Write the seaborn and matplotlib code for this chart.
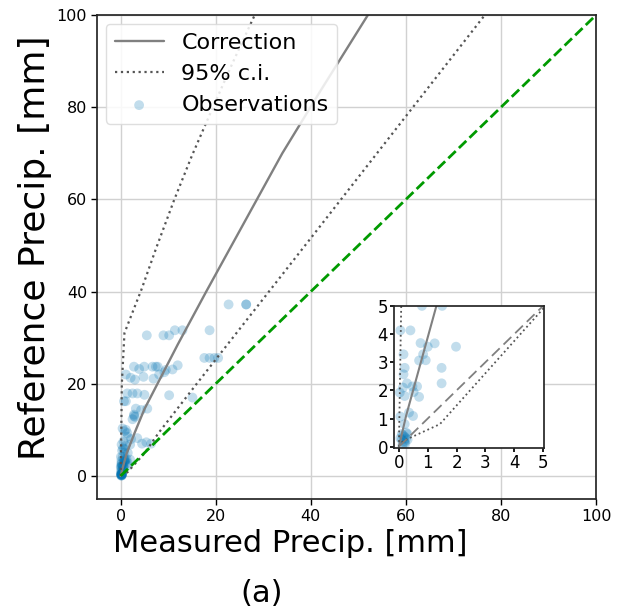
import numpy as np
import pandas as pd
import seaborn as sns
import matplotlib.pyplot as plt

# observations (measured, reference)
obs_x = [22.7, 26.4, 26.4, 5.5, 9.0, 10.2, 11.4, 13.0, 18.7,
         17.6, 18.7, 19.7, 20.5,
         2.8, 3.9, 4.95, 6.7, 7.4, 7.8, 12.0, 10.9, 9.5,
         1.1, 2.1, 3.0, 4.8, 6.9, 8.1, 9.2,
         1.4, 2.5, 3.5, 5.0, 10.2, 15.1,
         0.7, 1.1, 3.2, 4.3, 5.6, 2.8, 2.8, 2.5, 3.0,
         0.8, 1.1, 1.4, 0.4, 1.4, 2.2, 3.5, 4.5, 5.4, 6.4, 1.0, 0.6, 2.0,
         0.3, 0.5, 0.8, 0.2,
         0.8, 1.5, 0.05, 0.4, 0.75, 1.0, 1.24, 1.98, 0.16, 0.84, 0.70, 0.93,
         0.2, 1.48, 0.16, 0.28, 1.48, 0.14, 0.47, 0.63, 0.51, 0.03, 0.2, 0.70,
         0.35, 0.49, 0.05, 0.2,
         0.1, 0.15, 0.2, 0.25, 0.3, 0.1, 0.18, 0.22, 0.12, 0.25, 0.05, 0.3, 0.2]
obs_y = [37.2, 37.2, 37.2, 30.5, 30.5, 30.5, 31.6, 31.6, 31.6,
         25.6, 25.6, 25.6, 25.6,
         23.7, 23.2, 23.7, 23.7, 23.7, 23.7, 24.0, 23.1, 23.0,
         22.0, 21.3, 20.9, 21.5, 21.1, 22.0, 22.5,
         17.9, 17.9, 17.9, 17.6, 17.5, 17.0,
         16.2, 16.2, 14.6, 14.3, 14.6, 13.3, 13.0, 12.3, 12.8,
         9.7, 10.0, 9.3, 10.3, 8.5, 8.0, 8.2, 7.0, 7.3, 7.0, 6.5, 7.5, 6.8,
         5.5, 6.0, 5.8, 6.8,
         5.0, 5.0, 4.13, 4.13, 3.68, 3.55, 3.67, 3.55, 3.28, 3.28, 3.06, 3.07,
         2.8, 2.8, 2.57, 2.25, 2.25, 2.1, 2.14, 2.14, 1.94, 1.92, 1.8, 1.77,
         1.21, 1.09, 1.07, 0.8,
         0.45, 0.4, 0.35, 0.3, 0.45, 0.25, 0.2, 0.1, 0.05, 0.5, 0.3, 0.25, 0.15]

# correction curve and 95% confidence limits
corr_x = [0, 0.25, 1.3, 3, 5, 8, 12, 18, 26, 34, 42, 52]
corr_y = [0, 1.1, 5, 9.5, 14.5, 20.5, 28.5, 40, 55, 70, 83.5, 100]
ci_up_x = [0, 0.08, 0.25, 0.8, 2.5, 4.4, 7.5, 11.3, 15, 19, 23.5, 28.2]
ci_up_y = [0, 5, 20, 31, 35.5, 40.5, 49.5, 60, 69.5, 79, 89.5, 100]
ci_lo_x = [0.1, 0.14, 1.42, 5.0, 8.1, 16, 40, 76.6]
ci_lo_y = [0.15, 0.2, 0.8, 4.9, 9.5, 20, 51.6, 100]
one_x = [0, 100]
one_y = [0, 100]

df = pd.DataFrame({"Measured": obs_x, "Reference": obs_y})

sns.set_theme(style="whitegrid")
plt.rcParams["font.family"] = ["DejaVu Sans"]
plt.rcParams.update({"axes.edgecolor": ".15", "grid.color": ".82",
                     "xtick.bottom": True, "ytick.left": True,
                     "xtick.color": "black", "ytick.color": "black",
                     "text.color": "black", "axes.labelcolor": "black"})

fig = plt.figure(figsize=(6.21, 6.13), dpi=100)
ax = fig.add_axes([0.156, 0.186, 0.804, 0.7896])

blue = "#0173b2"
grey = "#808080"
dots = "#555555"

ax.plot(corr_x, corr_y, color=grey, lw=1.7, label="Correction")
ax.plot(ci_up_x, ci_up_y, color=dots, lw=1.6, ls=":", label="95% c.i.")
ax.plot(ci_lo_x, ci_lo_y, color=dots, lw=1.6, ls=":")
sns.scatterplot(data=df, x="Measured", y="Reference", ax=ax, color=blue,
                alpha=0.24, s=50, edgecolor="none", label="Observations")
ax.plot(one_x, one_y, color="#009a00", lw=2, ls="--")

ax.set_xlim(-5, 100)
ax.set_ylim(-5, 100)
ax.set_xticks([0, 20, 40, 60, 80, 100])
ax.set_yticks([0, 20, 40, 60, 80, 100])
ax.tick_params(labelsize=11.5, length=4, width=1, pad=3)
ax.set_xlabel("Measured Precip. [mm]", fontsize=22)
ax.set_ylabel("Reference Precip. [mm]", fontsize=26)
ax.xaxis.set_label_coords(0.387, -0.062)
ax.yaxis.set_label_coords(-0.09, 0.519)
fig.text(0.422, 0.008, "(a)", fontsize=22, ha="center", va="bottom")

leg = ax.legend(loc="upper left", fontsize=16, frameon=True,
                framealpha=0.85, edgecolor=".85", borderaxespad=0.4,
                handlelength=2.2)

# inset
axi = fig.add_axes([0.634, 0.269, 0.242, 0.232])
axi.grid(False)
axi.plot(corr_x, corr_y, color=grey, lw=1.5)
axi.plot(ci_up_x, ci_up_y, color=dots, lw=1.3, ls=":")
axi.plot(ci_lo_x, ci_lo_y, color=dots, lw=1.3, ls=":")
axi.plot(one_x, one_y, color=grey, lw=1.3, ls=(0, (6, 3)))
sns.scatterplot(data=df, x="Measured", y="Reference", ax=axi, color=blue,
                alpha=0.24, s=50, edgecolor="none", legend=False)
axi.set_xlim(-0.18, 5.03)
axi.set_ylim(-0.05, 5.0)
axi.set_xticks(range(6))
axi.set_yticks(range(6))
axi.tick_params(labelsize=12, length=3, pad=1)
axi.set_xlabel("")
axi.set_ylabel("")

fig.savefig("out.png", dpi=100)
